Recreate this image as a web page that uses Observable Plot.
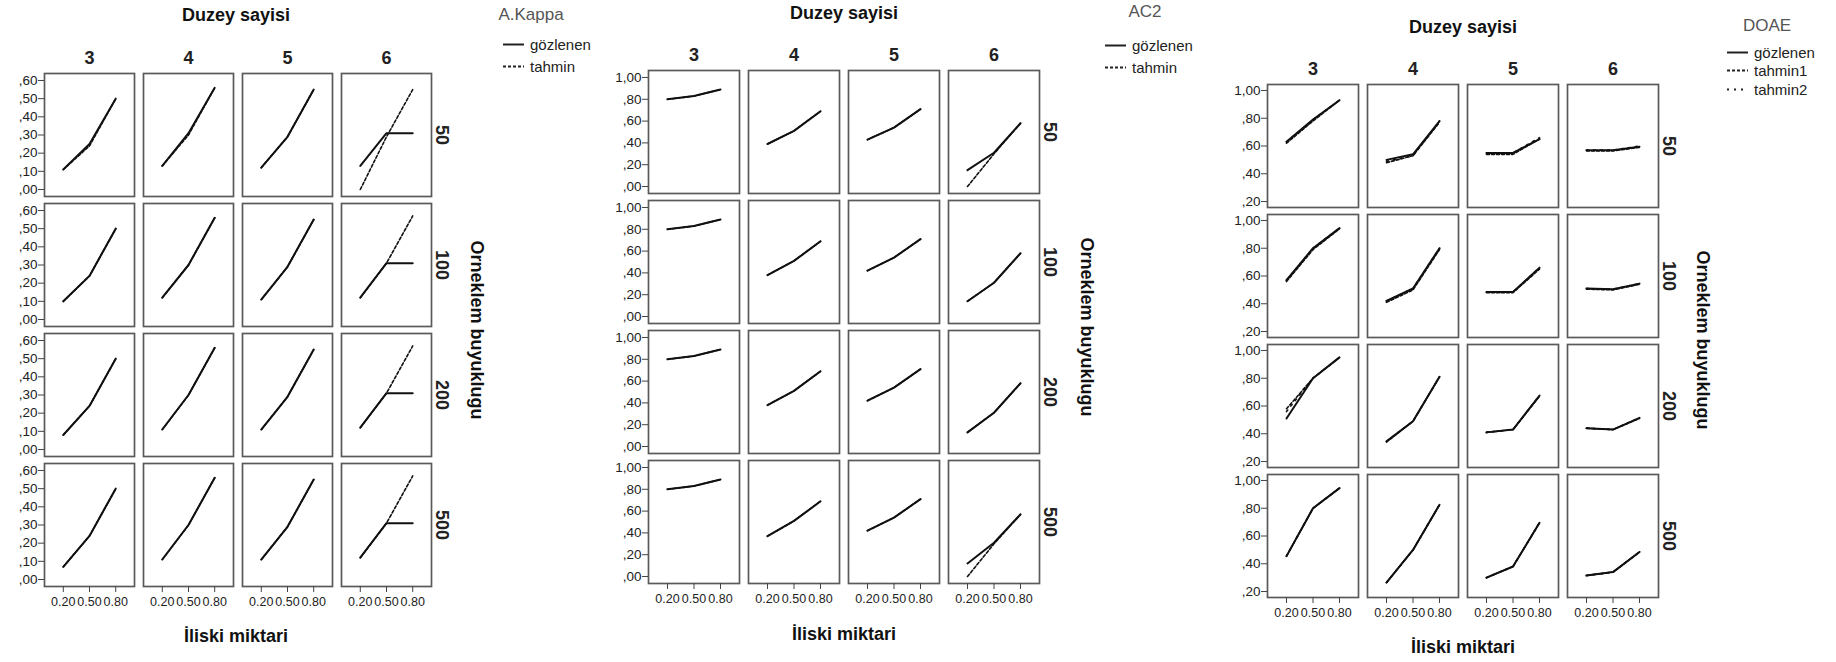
<!DOCTYPE html>
<html>
<head>
<meta charset="utf-8">
<script src="https://cdn.jsdelivr.net/npm/d3@7"></script>
<script src="https://cdn.jsdelivr.net/npm/@observablehq/plot@0.6"></script>
<style>
  body { margin: 0; background: #fff; }
  #page { position: relative; width: 1836px; height: 662px; overflow: hidden;
          font-family: "Liberation Sans Narrow", "Arial Narrow", "Liberation Sans", sans-serif; color: #222; }
  .panel { position: absolute; top: 0; }
  .t { position: absolute; white-space: nowrap; line-height: 1; }
  .ctr { transform: translate(-50%, -50%); }
  .bold { font-weight: bold; font-size: 18px; color: #111; }
  .vert { font-family: "Liberation Sans", Arial, sans-serif; font-weight: bold; font-size: 18px; color: #111;
          transform: translate(-50%, -50%) rotate(90deg); }
  .lgTitle { font-size: 17px; color: #555; transform: translate(-50%, -50%); }
  .lgRow { position: absolute; display: flex; align-items: center; gap: 6px; font-size: 15px; color: #222;
           transform: translateY(-50%); }
</style>
</head>
<body>
<div id="page"></div>
<script>
// Facet categories and x positions
const duzeySayisi = ["3", "4", "5", "6"];
const orneklemBuyuklugu = ["50", "100", "200", "500"];
const iliskiMiktari = [0.2, 0.5, 0.8];

// Each table: one row per sample size (50, 100, 200, 500),
// one triple per level count (3, 4, 5, 6), triple = value at .20 / .50 / .80
const kappaGozlenen = [
  [[0.11, 0.25, 0.50], [0.13, 0.31, 0.56], [0.12, 0.29, 0.55], [0.13, 0.31, 0.31]],
  [[0.10, 0.24, 0.50], [0.12, 0.30, 0.56], [0.11, 0.29, 0.55], [0.12, 0.31, 0.31]],
  [[0.08, 0.24, 0.50], [0.11, 0.30, 0.56], [0.11, 0.29, 0.55], [0.12, 0.31, 0.31]],
  [[0.07, 0.24, 0.50], [0.11, 0.30, 0.56], [0.11, 0.29, 0.55], [0.12, 0.31, 0.31]]
];
const kappaTahmin = [
  [[0.11, 0.24, 0.50], [0.13, 0.30, 0.56], [0.12, 0.29, 0.55], [0.00, 0.29, 0.55]],
  [[0.10, 0.24, 0.50], [0.12, 0.30, 0.56], [0.11, 0.29, 0.55], [0.12, 0.31, 0.57]],
  [[0.08, 0.24, 0.50], [0.11, 0.30, 0.56], [0.11, 0.29, 0.55], [0.12, 0.31, 0.57]],
  [[0.07, 0.24, 0.50], [0.11, 0.30, 0.56], [0.11, 0.29, 0.55], [0.12, 0.31, 0.57]]
];

const ac2Gozlenen = [
  [[0.80, 0.83, 0.89], [0.39, 0.51, 0.69], [0.43, 0.54, 0.71], [0.15, 0.31, 0.58]],
  [[0.80, 0.83, 0.89], [0.38, 0.51, 0.69], [0.42, 0.54, 0.71], [0.14, 0.31, 0.58]],
  [[0.80, 0.83, 0.89], [0.38, 0.51, 0.69], [0.42, 0.54, 0.71], [0.13, 0.31, 0.58]],
  [[0.80, 0.83, 0.89], [0.37, 0.51, 0.69], [0.42, 0.54, 0.71], [0.12, 0.31, 0.57]]
];
const ac2Tahmin = [
  [[0.80, 0.83, 0.89], [0.39, 0.51, 0.69], [0.43, 0.54, 0.71], [0.00, 0.30, 0.58]],
  [[0.80, 0.83, 0.89], [0.38, 0.51, 0.69], [0.42, 0.54, 0.71], [0.14, 0.31, 0.58]],
  [[0.80, 0.83, 0.89], [0.38, 0.51, 0.69], [0.42, 0.54, 0.71], [0.13, 0.31, 0.58]],
  [[0.80, 0.83, 0.89], [0.37, 0.51, 0.69], [0.42, 0.54, 0.71], [0.00, 0.30, 0.57]]
];

const doaeGozlenen = [
  [[0.63, 0.79, 0.93], [0.50, 0.54, 0.78], [0.55, 0.55, 0.65], [0.57, 0.57, 0.595]],
  [[0.57, 0.80, 0.945], [0.42, 0.51, 0.80], [0.485, 0.485, 0.66], [0.51, 0.505, 0.545]],
  [[0.51, 0.80, 0.95], [0.345, 0.49, 0.81], [0.41, 0.43, 0.675], [0.44, 0.43, 0.515]],
  [[0.455, 0.80, 0.945], [0.265, 0.50, 0.825], [0.30, 0.38, 0.695], [0.315, 0.34, 0.485]]
];
const doaeTahmin1 = [
  [[0.62, 0.78, 0.93], [0.48, 0.53, 0.77], [0.54, 0.54, 0.65], [0.565, 0.565, 0.59]],
  [[0.56, 0.79, 0.94], [0.41, 0.50, 0.79], [0.48, 0.48, 0.65], [0.505, 0.50, 0.54]],
  [[0.58, 0.80, 0.95], [0.34, 0.49, 0.81], [0.41, 0.43, 0.67], [0.44, 0.43, 0.51]],
  [[0.455, 0.80, 0.945], [0.265, 0.50, 0.825], [0.30, 0.38, 0.695], [0.315, 0.34, 0.485]]
];
const doaeTahmin2 = [
  [[0.63, 0.79, 0.93], [0.49, 0.53, 0.78], [0.55, 0.55, 0.66], [0.57, 0.57, 0.60]],
  [[0.57, 0.80, 0.945], [0.42, 0.51, 0.80], [0.485, 0.485, 0.66], [0.51, 0.505, 0.545]],
  [[0.56, 0.80, 0.95], [0.345, 0.49, 0.81], [0.41, 0.43, 0.675], [0.44, 0.43, 0.515]],
  [[0.455, 0.80, 0.945], [0.265, 0.50, 0.825], [0.30, 0.38, 0.695], [0.315, 0.34, 0.485]]
];

const NARROW = '"Liberation Sans Narrow", "Arial Narrow", "Liberation Sans", sans-serif';
const WIDE = '"Liberation Sans", Arial, sans-serif';

// Flatten a table into tidy rows for faceting
function tidy(table) {
  const rows = [];
  table.forEach((row, r) => row.forEach((trip, c) => trip.forEach((v, k) => rows.push({
    orneklem: orneklemBuyuklugu[r], duzey: duzeySayisi[c], iliski: iliskiMiktari[k], value: v
  }))));
  return rows;
}

// ",60" / "1,00" style tick labels
const commaFmt = d => {
  const s = d3.format(".2f")(d).replace(".", ",");
  return s.startsWith("0,") ? s.slice(1) : s;
};

function facetPanel({series, yDomain, yTicks, width, marginTop, marginBottom, marginRight}) {
  const facetOpts = {x: "iliski", y: "value", fx: "duzey", fy: "orneklem"};
  return Plot.plot({
    width, height: 662,
    marginTop, marginBottom, marginLeft: 43, marginRight,
    style: {fontFamily: NARROW, color: "#222", background: "transparent", overflow: "visible"},
    fx: {domain: duzeySayisi, padding: 0.086, label: null},
    fy: {domain: orneklemBuyuklugu, padding: 0.054, label: null},
    x: {domain: [-0.015, 1.015], label: null},
    y: {domain: yDomain, label: null},
    marks: [
      Plot.frame({stroke: "#5a5a5a", strokeWidth: 1.7}),
      Plot.axisFx({anchor: "top", tickSize: 0, tickPadding: 10, fontSize: 18, fontWeight: "bold", label: null}),
      Plot.axisFy({anchor: "right", tickSize: 0, tickRotate: 90, tickPadding: 4, lineAnchor: "bottom",
                   fontSize: 18, fontWeight: "bold", fontFamily: WIDE, label: null}),
      Plot.axisX({anchor: "bottom", ticks: iliskiMiktari, tickFormat: d3.format(".2f"),
                  tickSize: 6, tickPadding: 5, fontSize: 12.5, stroke: "#444", label: null}),
      Plot.axisY({anchor: "left", ticks: yTicks, tickFormat: commaFmt,
                  tickSize: 6, tickPadding: 1, fontSize: 13.5, stroke: "#444", label: null}),
      ...series.map(s => Plot.line(tidy(s.table), {
        ...facetOpts, stroke: "#111", strokeWidth: s.width, strokeDasharray: s.dash
      }))
    ]
  });
}

const page = document.getElementById("page");

function place(el, left) {
  el.classList.add("panel");
  el.style.left = left + "px";
  page.appendChild(el);
}

function text(str, x, y, cls) {
  const d = document.createElement("div");
  d.className = "t " + cls;
  d.style.left = x + "px";
  d.style.top = y + "px";
  d.textContent = str;
  page.appendChild(d);
}

function legendRow(label, x, y, dash) {
  const d = document.createElement("div");
  d.className = "lgRow";
  d.style.left = x + "px";
  d.style.top = y + "px";
  d.innerHTML = `<svg width="21" height="4"><line x1="0" x2="21" y1="2" y2="2" stroke="#222" stroke-width="2" ${dash ? `stroke-dasharray="${dash}"` : ""}/></svg><span>${label}</span>`;
  page.appendChild(d);
}

// A.Kappa
place(facetPanel({
  series: [
    {table: kappaGozlenen, width: 2, dash: null},
    {table: kappaTahmin, width: 1.6, dash: "3,2"}
  ],
  yDomain: [-0.0385, 0.6385], yTicks: [0, 0.1, 0.2, 0.3, 0.4, 0.5, 0.6],
  width: 490, marginTop: 72, marginBottom: 76, marginRight: 58
}), 0);
text("Duzey sayisi", 236, 15, "ctr bold");
text("İliski miktari", 236, 636, "ctr bold");
text("Orneklem buyuklugu", 477, 330, "vert");
text("A.Kappa", 531, 14, "lgTitle");
legendRow("gözlenen", 503, 44, null);
legendRow("tahmin", 503, 66, "3,2");

// AC2
place(facetPanel({
  series: [
    {table: ac2Gozlenen, width: 2, dash: null},
    {table: ac2Tahmin, width: 1.6, dash: "3,2"}
  ],
  yDomain: [-0.064, 1.064], yTicks: [0, 0.2, 0.4, 0.6, 0.8, 1],
  width: 490, marginTop: 69, marginBottom: 78, marginRight: 55
}), 605);
text("Duzey sayisi", 844, 13, "ctr bold");
text("İliski miktari", 844, 634, "ctr bold");
text("Orneklem buyuklugu", 1087, 327, "vert");
text("AC2", 1145, 11, "lgTitle");
legendRow("gözlenen", 1105, 45, null);
legendRow("tahmin", 1105, 67, "3,2");

// DOAE
place(facetPanel({
  series: [
    {table: doaeGozlenen, width: 2, dash: null},
    {table: doaeTahmin1, width: 1.6, dash: "3,2"},
    {table: doaeTahmin2, width: 1.6, dash: "2,5"}
  ],
  yDomain: [0.157, 1.043], yTicks: [0.2, 0.4, 0.6, 0.8, 1],
  width: 490, marginTop: 83, marginBottom: 64, marginRight: 55
}), 1224);
text("Duzey sayisi", 1463, 27, "ctr bold");
text("İliski miktari", 1463, 647, "ctr bold");
text("Orneklem buyuklugu", 1703, 340, "vert");
text("DOAE", 1767, 25, "lgTitle");
legendRow("gözlenen", 1727, 52, null);
legendRow("tahmin1", 1727, 70, "3,2");
legendRow("tahmin2", 1727, 89, "2,5");
</script>
</body>
</html>
